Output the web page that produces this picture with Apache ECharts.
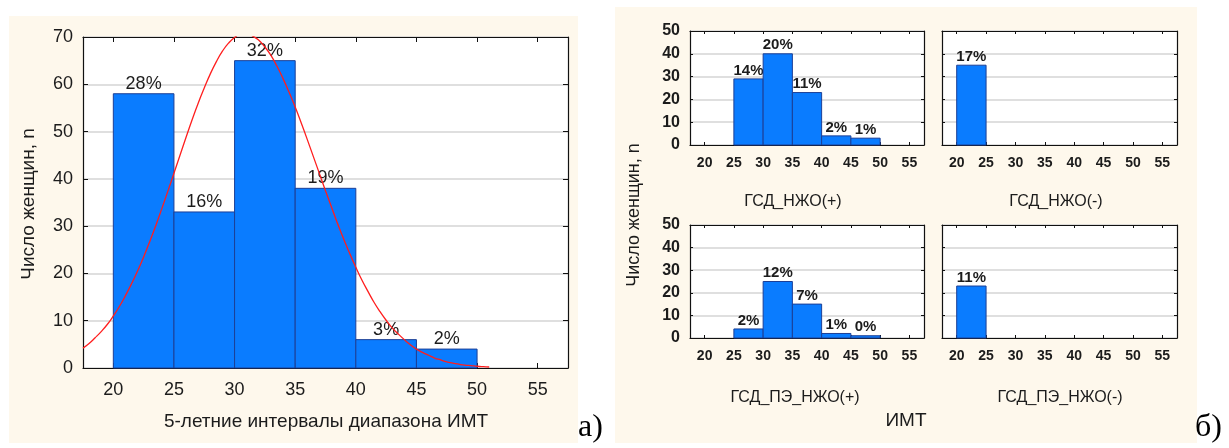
<!DOCTYPE html>
<html>
<head>
<meta charset="utf-8">
<script src="https://cdn.jsdelivr.net/npm/echarts@6/dist/echarts.min.js"></script>
<style>
html,body{margin:0;padding:0;background:#ffffff;}
#c{width:1229px;height:448px;}
</style>
</head>
<body>
<div id="c"></div>
<script>
// ---- data ----
const binEdges = [20, 25, 30, 35, 40, 45, 50];
const totalCounts = [58, 33, 65, 38, 6, 4];
const nzhoPlus = [0, 29, 40, 23, 4, 3];
const nzhoMinus = [35, 0, 0, 0, 0, 0];
const peNzhoPlus = [0, 4, 25, 15, 2, 1];
const peNzhoMinus = [23, 0, 0, 0, 0, 0];
const xTicks = [20, 25, 30, 35, 40, 45, 50, 55];
const curveX = [17.5,18,18.5,19,19.5,20,20.5,21,21.5,22,22.5,23,23.5,24,24.5,25,25.5,26,26.5,27,27.5,28,28.5,29,29.5,30,30.5,31,31.5,32,32.5,33,33.5,34,34.5,35,35.5,36,36.5,37,37.5,38,38.5,39,39.5,40,40.5,41,41.5,42,42.5,43,43.5,44,44.5,45,45.5,46,46.5,47,47.5,48,48.5,49,49.5,50,50.5,51];
const curveY = [4.2,5.2,6.4,7.7,9.2,11.0,13.0,15.3,17.8,20.5,23.5,26.7,30.1,33.7,37.4,41.2,45.0,48.8,52.5,56.0,59.2,62.2,64.8,67.0,68.7,69.9,70.6,70.6,70.2,69.3,67.9,66.1,63.8,61.2,58.3,55.2,51.8,48.3,44.7,41.1,37.5,34.0,30.5,27.3,24.2,21.3,18.6,16.2,13.9,11.9,10.1,8.5,7.2,6.0,4.9,4.0,3.3,2.7,2.1,1.7,1.3,1.05,0.8,0.6,0.5,0.37,0.28,0.21];
const titles = ['ГСД_НЖО(+)', 'ГСД_НЖО(-)', 'ГСД_ПЭ_НЖО(+)', 'ГСД_ПЭ_НЖО(-)'];
const yTitle = 'Число женщин, n';
const xTitleLeft = '5-летние интервалы диапазона ИМТ';
const xTitleRight = 'ИМТ';

const N = totalCounts.reduce((a, b) => a + b, 0);
const FONT = '"Liberation Sans", Arial, sans-serif';
const TXT = '#1c1c1c';

function binData(counts) {
  const out = [];
  counts.forEach((c, i) => { if (c > 0) out.push([binEdges[i], binEdges[i + 1], c, Math.round(c / N * 100) + '%']); });
  return out;
}

const grids = [
  {left: 83, top: 37, width: 485, height: 331},
  {left: 690, top: 31, width: 234, height: 114},
  {left: 942, top: 31, width: 235, height: 114},
  {left: 690, top: 225, width: 234, height: 113},
  {left: 942, top: 225, width: 235, height: 113}
];
const gridCfg = [
  {ymax: 70, fs: 18, tick: 5, lblMargin: 13, xfs: 18, fw: 'normal'},
  {ymax: 50, fs: 16, tick: 3, lblMargin: 11, xfs: 14, fw: 'bold'},
  {ymax: 50, fs: 16, tick: 3, lblMargin: 11, xfs: 14, fw: 'bold'},
  {ymax: 50, fs: 16, tick: 3, lblMargin: 11, xfs: 14, fw: 'bold'},
  {ymax: 50, fs: 16, tick: 3, lblMargin: 11, xfs: 14, fw: 'bold'}
];
const xAxes = [], yAxes = [];
gridCfg.forEach((g, gi) => {
  const showY = gi === 0 || gi === 1 || gi === 3;
  const line = {show: true, onZero: false, lineStyle: {color: '#111', width: 1.2}};
  xAxes.push({gridIndex: gi, type: 'value', min: 17.5, max: 57.5, position: 'bottom',
    axisLine: line, axisTick: {show: true, inside: true, length: g.tick, customValues: xTicks, lineStyle: {color: '#111'}},
    axisLabel: {customValues: xTicks, fontSize: g.xfs, fontWeight: g.fw, fontFamily: FONT, color: TXT, margin: g.lblMargin},
    splitLine: {show: false}});
  xAxes.push({gridIndex: gi, type: 'value', min: 17.5, max: 57.5, position: 'top',
    axisLine: line, axisTick: {show: true, inside: true, length: g.tick, customValues: xTicks, lineStyle: {color: '#111'}},
    axisLabel: {show: false}, splitLine: {show: false}});
  yAxes.push({gridIndex: gi, type: 'value', min: 0, max: g.ymax, interval: 10, position: 'left',
    axisLine: line, axisTick: {show: true, inside: true, length: g.tick, lineStyle: {color: '#111'}},
    axisLabel: {show: showY, fontSize: g.fs, fontWeight: g.fw, fontFamily: FONT, color: TXT, margin: 10},
    splitLine: {show: true, lineStyle: {color: '#d4d4d4', width: 1.5}}});
  yAxes.push({gridIndex: gi, type: 'value', min: 0, max: g.ymax, interval: 10, position: 'right',
    axisLine: line, axisTick: {show: true, inside: true, length: g.tick, lineStyle: {color: '#111'}},
    axisLabel: {show: false}, splitLine: {show: false}});
});

function barSeries(gi, counts, labelSize, labelWeight) {
  const data = binData(counts);
  return {
    type: 'custom', xAxisIndex: gi * 2, yAxisIndex: gi * 2, z: 2,
    encode: {x: [0, 1], y: 2},
    data: data.map(d => [d[0], d[1], d[2]]),
    renderItem: function (params, api) {
      const p0 = api.coord([api.value(0), api.value(2)]);
      const p1 = api.coord([api.value(1), 0]);
      return {type: 'group', children: [
        {type: 'rect', shape: {x: p0[0], y: p0[1], width: p1[0] - p0[0], height: p1[1] - p0[1]},
          style: {fill: '#0a7cff', stroke: '#1c3f96', lineWidth: 1}},
        {type: 'text', style: {text: data[params.dataIndex][3], x: (p0[0] + p1[0]) / 2, y: p0[1] - 1,
          align: 'center', verticalAlign: 'bottom', fontSize: labelSize, fontWeight: labelWeight, fontFamily: FONT, fill: TXT}}
      ]};
    }
  };
}

const series = [
  barSeries(0, totalCounts, 18, 'normal'),
  barSeries(1, nzhoPlus, 15, 'bold'),
  barSeries(2, nzhoMinus, 15, 'bold'),
  barSeries(3, peNzhoPlus, 15, 'bold'),
  barSeries(4, peNzhoMinus, 15, 'bold'),
  {type: 'line', xAxisIndex: 0, yAxisIndex: 0, z: 5, clip: true, symbol: 'none', smooth: true,
    lineStyle: {color: '#ff1e1e', width: 1.3},
    data: curveX.map((x, i) => [x, curveY[i]])}
];

const txt = (t, x, y, size, extra) => Object.assign({type: 'text', x: x, y: y, z: 10,
  style: {text: t, fontSize: size, fontFamily: FONT, fill: TXT, align: 'center', verticalAlign: 'middle'}}, extra || {});

const graphic = [
  {type: 'rect', shape: {x: 9, y: 16, width: 569, height: 427}, style: {fill: '#fef8ec'}, z: -10},
  {type: 'rect', shape: {x: 615, y: 7, width: 582, height: 436}, style: {fill: '#fef8ec'}, z: -10},
  {type: 'rect', shape: {x: 83, y: 37, width: 485, height: 331}, style: {fill: '#ffffff'}, z: -9},
  {type: 'rect', shape: {x: 690, y: 31, width: 234, height: 114}, style: {fill: '#ffffff'}, z: -9},
  {type: 'rect', shape: {x: 942, y: 31, width: 235, height: 114}, style: {fill: '#ffffff'}, z: -9},
  {type: 'rect', shape: {x: 690, y: 225, width: 234, height: 113}, style: {fill: '#ffffff'}, z: -9},
  {type: 'rect', shape: {x: 942, y: 225, width: 235, height: 113}, style: {fill: '#ffffff'}, z: -9},
  txt(xTitleLeft, 326, 422, 19),
  txt(yTitle, 29, 204, 19, {rotation: Math.PI / 2}),
  txt(yTitle, 634, 215, 18, {rotation: Math.PI / 2}),
  txt(titles[0], 793, 202, 16),
  txt(titles[1], 1056, 202, 16),
  txt(titles[2], 795, 398, 16),
  txt(titles[3], 1060, 398, 16),
  txt(xTitleRight, 906, 421, 19),
  {type: 'text', x: 578, y: 444, z: 10, style: {text: 'а)', fontSize: 32, fontFamily: '"Liberation Serif", "Times New Roman", serif', fill: '#000', align: 'left', verticalAlign: 'bottom'}},
  {type: 'text', x: 1195, y: 444, z: 10, style: {text: 'б)', fontSize: 32, fontFamily: '"Liberation Serif", "Times New Roman", serif', fill: '#000', align: 'left', verticalAlign: 'bottom'}}
];

const chart = echarts.init(document.getElementById('c'), null, {renderer: 'canvas'});
chart.setOption({
  animation: false,
  backgroundColor: '#ffffff',
  grid: grids.map(g => Object.assign({containLabel: false}, g)),
  xAxis: xAxes,
  yAxis: yAxes,
  series: series,
  graphic: graphic
});
</script>
</body>
</html>
